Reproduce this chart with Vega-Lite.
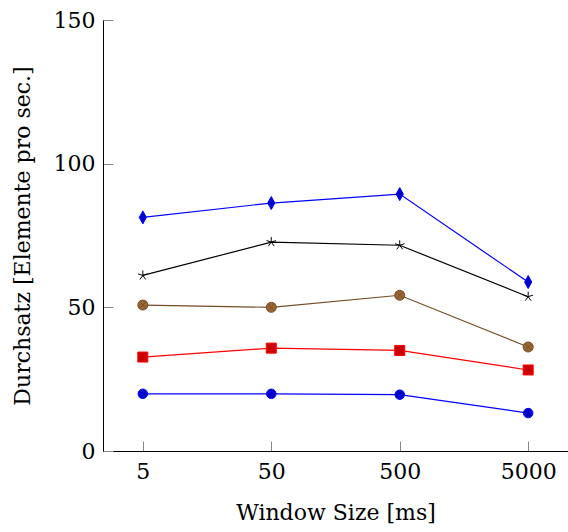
{
  "$schema": "https://vega.github.io/schema/vega-lite/v6.json",
  "width": 465,
  "height": 431,
  "autosize": {"type": "none"},
  "padding": {"left": 103, "top": 20, "right": 0, "bottom": 81},
  "background": "white",
  "config": {
    "view": {"stroke": null},
    "font": "DejaVu Serif",
    "axis": {
      "labelFont": "DejaVu Serif",
      "titleFont": "DejaVu Serif",
      "labelFontSize": 22,
      "titleFontSize": 22,
      "titleFontWeight": "normal",
      "labelColor": "black",
      "titleColor": "black",
      "domainColor": "black",
      "domainWidth": 1,
      "tickColor": "#888888",
      "tickWidth": 1,
      "grid": false
    }
  },
  "data": {
    "values": [
      {"w": "5", "v": 19.9, "s": "s1"},
      {"w": "50", "v": 19.9, "s": "s1"},
      {"w": "500", "v": 19.6, "s": "s1"},
      {"w": "5000", "v": 13.2, "s": "s1"},
      {"w": "5", "v": 32.7, "s": "s2"},
      {"w": "50", "v": 35.8, "s": "s2"},
      {"w": "500", "v": 35.0, "s": "s2"},
      {"w": "5000", "v": 28.2, "s": "s2"},
      {"w": "5", "v": 50.8, "s": "s3"},
      {"w": "50", "v": 50.0, "s": "s3"},
      {"w": "500", "v": 54.2, "s": "s3"},
      {"w": "5000", "v": 36.2, "s": "s3"},
      {"w": "5", "v": 61.1, "s": "s4"},
      {"w": "50", "v": 72.7, "s": "s4"},
      {"w": "500", "v": 71.6, "s": "s4"},
      {"w": "5000", "v": 53.7, "s": "s4"},
      {"w": "5", "v": 81.3, "s": "s5"},
      {"w": "50", "v": 86.3, "s": "s5"},
      {"w": "500", "v": 89.4, "s": "s5"},
      {"w": "5000", "v": 58.8, "s": "s5"}
    ]
  },
  "encoding": {
    "x": {
      "field": "w",
      "type": "ordinal",
      "sort": ["5", "50", "500", "5000"],
      "scale": {"type": "point", "padding": 0.31},
      "axis": {
        "title": "Window Size [ms]",
        "labelAngle": 0,
        "tickSize": -10,
        "labelPadding": 20,
        "titlePadding": 20
      }
    },
    "y": {
      "field": "v",
      "type": "quantitative",
      "scale": {"domain": [0, 150], "nice": false, "zero": true},
      "axis": {
        "title": "Durchsatz [Elemente pro sec.]",
        "values": [0, 50, 100, 150],
        "tickSize": -10,
        "labelPadding": 18,
        "titlePadding": 19
      }
    }
  },
  "layer": [
    {
      "mark": {"type": "line", "strokeWidth": 1.2},
      "encoding": {
        "color": {
          "field": "s",
          "type": "nominal",
          "legend": null,
          "scale": {
            "domain": ["s1", "s2", "s3", "s4", "s5"],
            "range": ["#0000ff", "#ff0000", "#734d26", "#000000", "#0000ff"]
          }
        }
      }
    },
    {
      "transform": [{"filter": "datum.s === 's1'"}],
      "mark": {"type": "point", "shape": "circle", "filled": true, "size": 90, "fill": "#0000cc", "stroke": "#0000ff", "strokeWidth": 1, "opacity": 1}
    },
    {
      "transform": [{"filter": "datum.s === 's2'"}],
      "mark": {"type": "point", "shape": "square", "filled": true, "size": 100, "fill": "#cc0000", "stroke": "#ff0000", "strokeWidth": 1, "opacity": 1}
    },
    {
      "transform": [{"filter": "datum.s === 's3'"}],
      "mark": {"type": "point", "shape": "circle", "filled": true, "size": 100, "fill": "#996633", "stroke": "#734d26", "strokeWidth": 1, "opacity": 1}
    },
    {
      "transform": [{"filter": "datum.s === 's3'"}],
      "mark": {"type": "point", "shape": "M-0.7,-0.7L0.7,0.7M-0.7,0.7L0.7,-0.7", "filled": false, "size": 121, "stroke": "#734d26", "strokeWidth": 0.8, "opacity": 1}
    },
    {
      "transform": [{"filter": "datum.s === 's4'"}],
      "mark": {"type": "point", "shape": "M0,0L0,-1M0,0L0.951,-0.309M0,0L0.588,0.809M0,0L-0.588,0.809M0,0L-0.951,-0.309", "filled": false, "size": 100, "stroke": "#000000", "strokeWidth": 1, "opacity": 1}
    },
    {
      "transform": [{"filter": "datum.s === 's5'"}],
      "mark": {"type": "point", "shape": "M0,-1L0.55,0L0,1L-0.55,0Z", "filled": true, "size": 169, "fill": "#0000cc", "stroke": "#0000ff", "strokeWidth": 1, "opacity": 1}
    }
  ]
}
